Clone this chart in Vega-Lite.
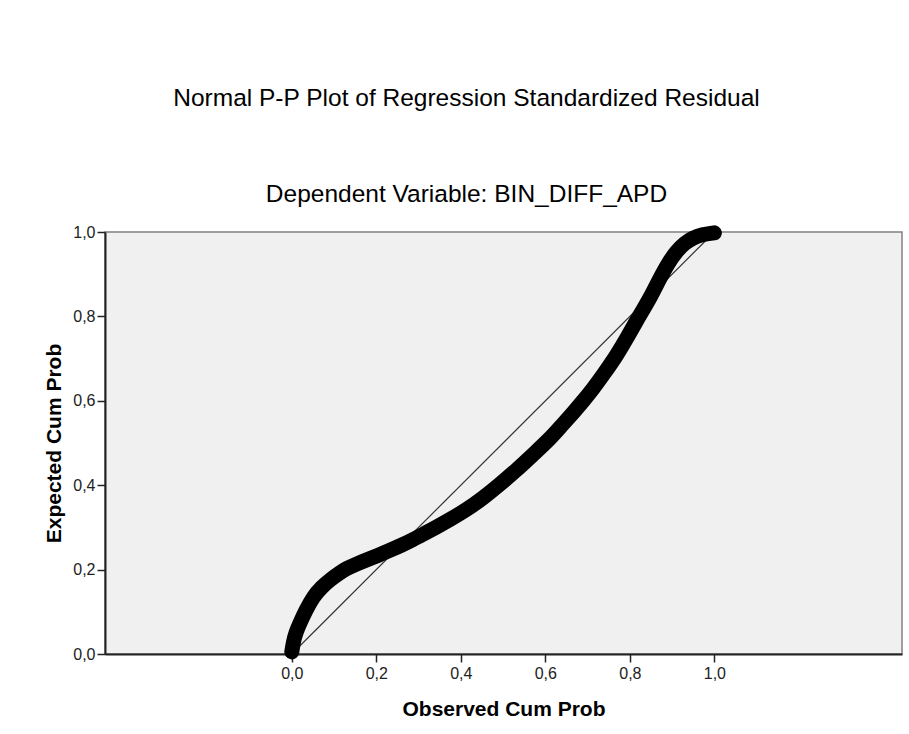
{
  "$schema": "https://vega.github.io/schema/vega-lite/v6.json",
  "width": 797,
  "height": 422,
  "autosize": {"type": "none"},
  "padding": {"left": 105, "top": 232, "right": 7, "bottom": 80},
  "background": "white",
  "title": {
    "text": "Normal P-P Plot of Regression Standardized Residual",
    "subtitle": "Dependent Variable: BIN_DIFF_APD",
    "font": "Liberation Sans",
    "subtitleFont": "Liberation Sans",
    "fontSize": 24.5,
    "subtitleFontSize": 24.5,
    "fontWeight": "normal",
    "color": "#000000",
    "subtitleColor": "#000000",
    "anchor": "middle",
    "frame": "group",
    "dx": -37,
    "offset": 17,
    "subtitlePadding": 71
  },
  "config": {
    "view": {"fill": "#F0F0F0", "stroke": "#808080", "strokeWidth": 1.5},
    "font": "Liberation Sans",
    "axis": {
      "domainColor": "#222222",
      "domainWidth": 2,
      "tickColor": "#222222",
      "tickWidth": 1.5,
      "tickSize": 8,
      "grid": false,
      "labelFont": "Liberation Sans",
      "labelFontSize": 16,
      "labelColor": "#222222",
      "titleFont": "Liberation Sans",
      "titleFontSize": 21,
      "titleFontWeight": "bold",
      "titleColor": "#000000"
    }
  },
  "datasets": {
    "diag": [{"obs": 0, "exp": 0}, {"obs": 1, "exp": 1}],
    "pp": [
      {"obs": 0.000, "exp": 0.005},
      {"obs": 0.004, "exp": 0.030},
      {"obs": 0.010, "exp": 0.052},
      {"obs": 0.020, "exp": 0.075},
      {"obs": 0.033, "exp": 0.103},
      {"obs": 0.051, "exp": 0.136},
      {"obs": 0.070, "exp": 0.158},
      {"obs": 0.091, "exp": 0.176},
      {"obs": 0.110, "exp": 0.190},
      {"obs": 0.130, "exp": 0.203},
      {"obs": 0.155, "exp": 0.214},
      {"obs": 0.177, "exp": 0.223},
      {"obs": 0.205, "exp": 0.234},
      {"obs": 0.233, "exp": 0.246},
      {"obs": 0.260, "exp": 0.258},
      {"obs": 0.285, "exp": 0.270},
      {"obs": 0.313, "exp": 0.285},
      {"obs": 0.343, "exp": 0.301},
      {"obs": 0.375, "exp": 0.319},
      {"obs": 0.414, "exp": 0.342},
      {"obs": 0.453, "exp": 0.370},
      {"obs": 0.490, "exp": 0.400},
      {"obs": 0.532, "exp": 0.436},
      {"obs": 0.570, "exp": 0.472},
      {"obs": 0.611, "exp": 0.510},
      {"obs": 0.640, "exp": 0.543},
      {"obs": 0.666, "exp": 0.572},
      {"obs": 0.690, "exp": 0.600},
      {"obs": 0.714, "exp": 0.630},
      {"obs": 0.740, "exp": 0.666},
      {"obs": 0.769, "exp": 0.708},
      {"obs": 0.795, "exp": 0.752},
      {"obs": 0.816, "exp": 0.790},
      {"obs": 0.835, "exp": 0.822},
      {"obs": 0.850, "exp": 0.848},
      {"obs": 0.871, "exp": 0.890},
      {"obs": 0.890, "exp": 0.925},
      {"obs": 0.910, "exp": 0.954},
      {"obs": 0.930, "exp": 0.974},
      {"obs": 0.949, "exp": 0.986},
      {"obs": 0.970, "exp": 0.994},
      {"obs": 1.000, "exp": 0.998}
    ]
  },
  "layer": [
    {
      "data": {"name": "diag"},
      "mark": {"type": "line", "color": "#333333", "strokeWidth": 1.2},
      "encoding": {
        "x": {
          "field": "obs", "type": "quantitative",
          "scale": {"domain": [-0.442, 1.444], "nice": false, "zero": false},
          "axis": {
            "title": "Observed Cum Prob",
            "values": [0, 0.2, 0.4, 0.6, 0.8, 1.0],
            "labelExpr": "replace(format(datum.value, '.1f'), '.', ',')",
            "labelPadding": 3,
            "titlePadding": 17
          }
        },
        "y": {
          "field": "exp", "type": "quantitative",
          "scale": {"domain": [0, 1], "nice": false, "zero": false},
          "axis": {
            "title": "Expected Cum Prob",
            "values": [0, 0.2, 0.4, 0.6, 0.8, 1.0],
            "labelExpr": "replace(format(datum.value, '.1f'), '.', ',')",
            "labelPadding": 2,
            "titlePadding": 8
          }
        }
      }
    },
    {
      "data": {"name": "pp"},
      "mark": {"type": "line", "color": "#000000", "strokeWidth": 15, "strokeCap": "round", "strokeJoin": "round", "interpolate": "basis"},
      "encoding": {
        "x": {"field": "obs", "type": "quantitative"},
        "y": {"field": "exp", "type": "quantitative"}
      }
    }
  ]
}
